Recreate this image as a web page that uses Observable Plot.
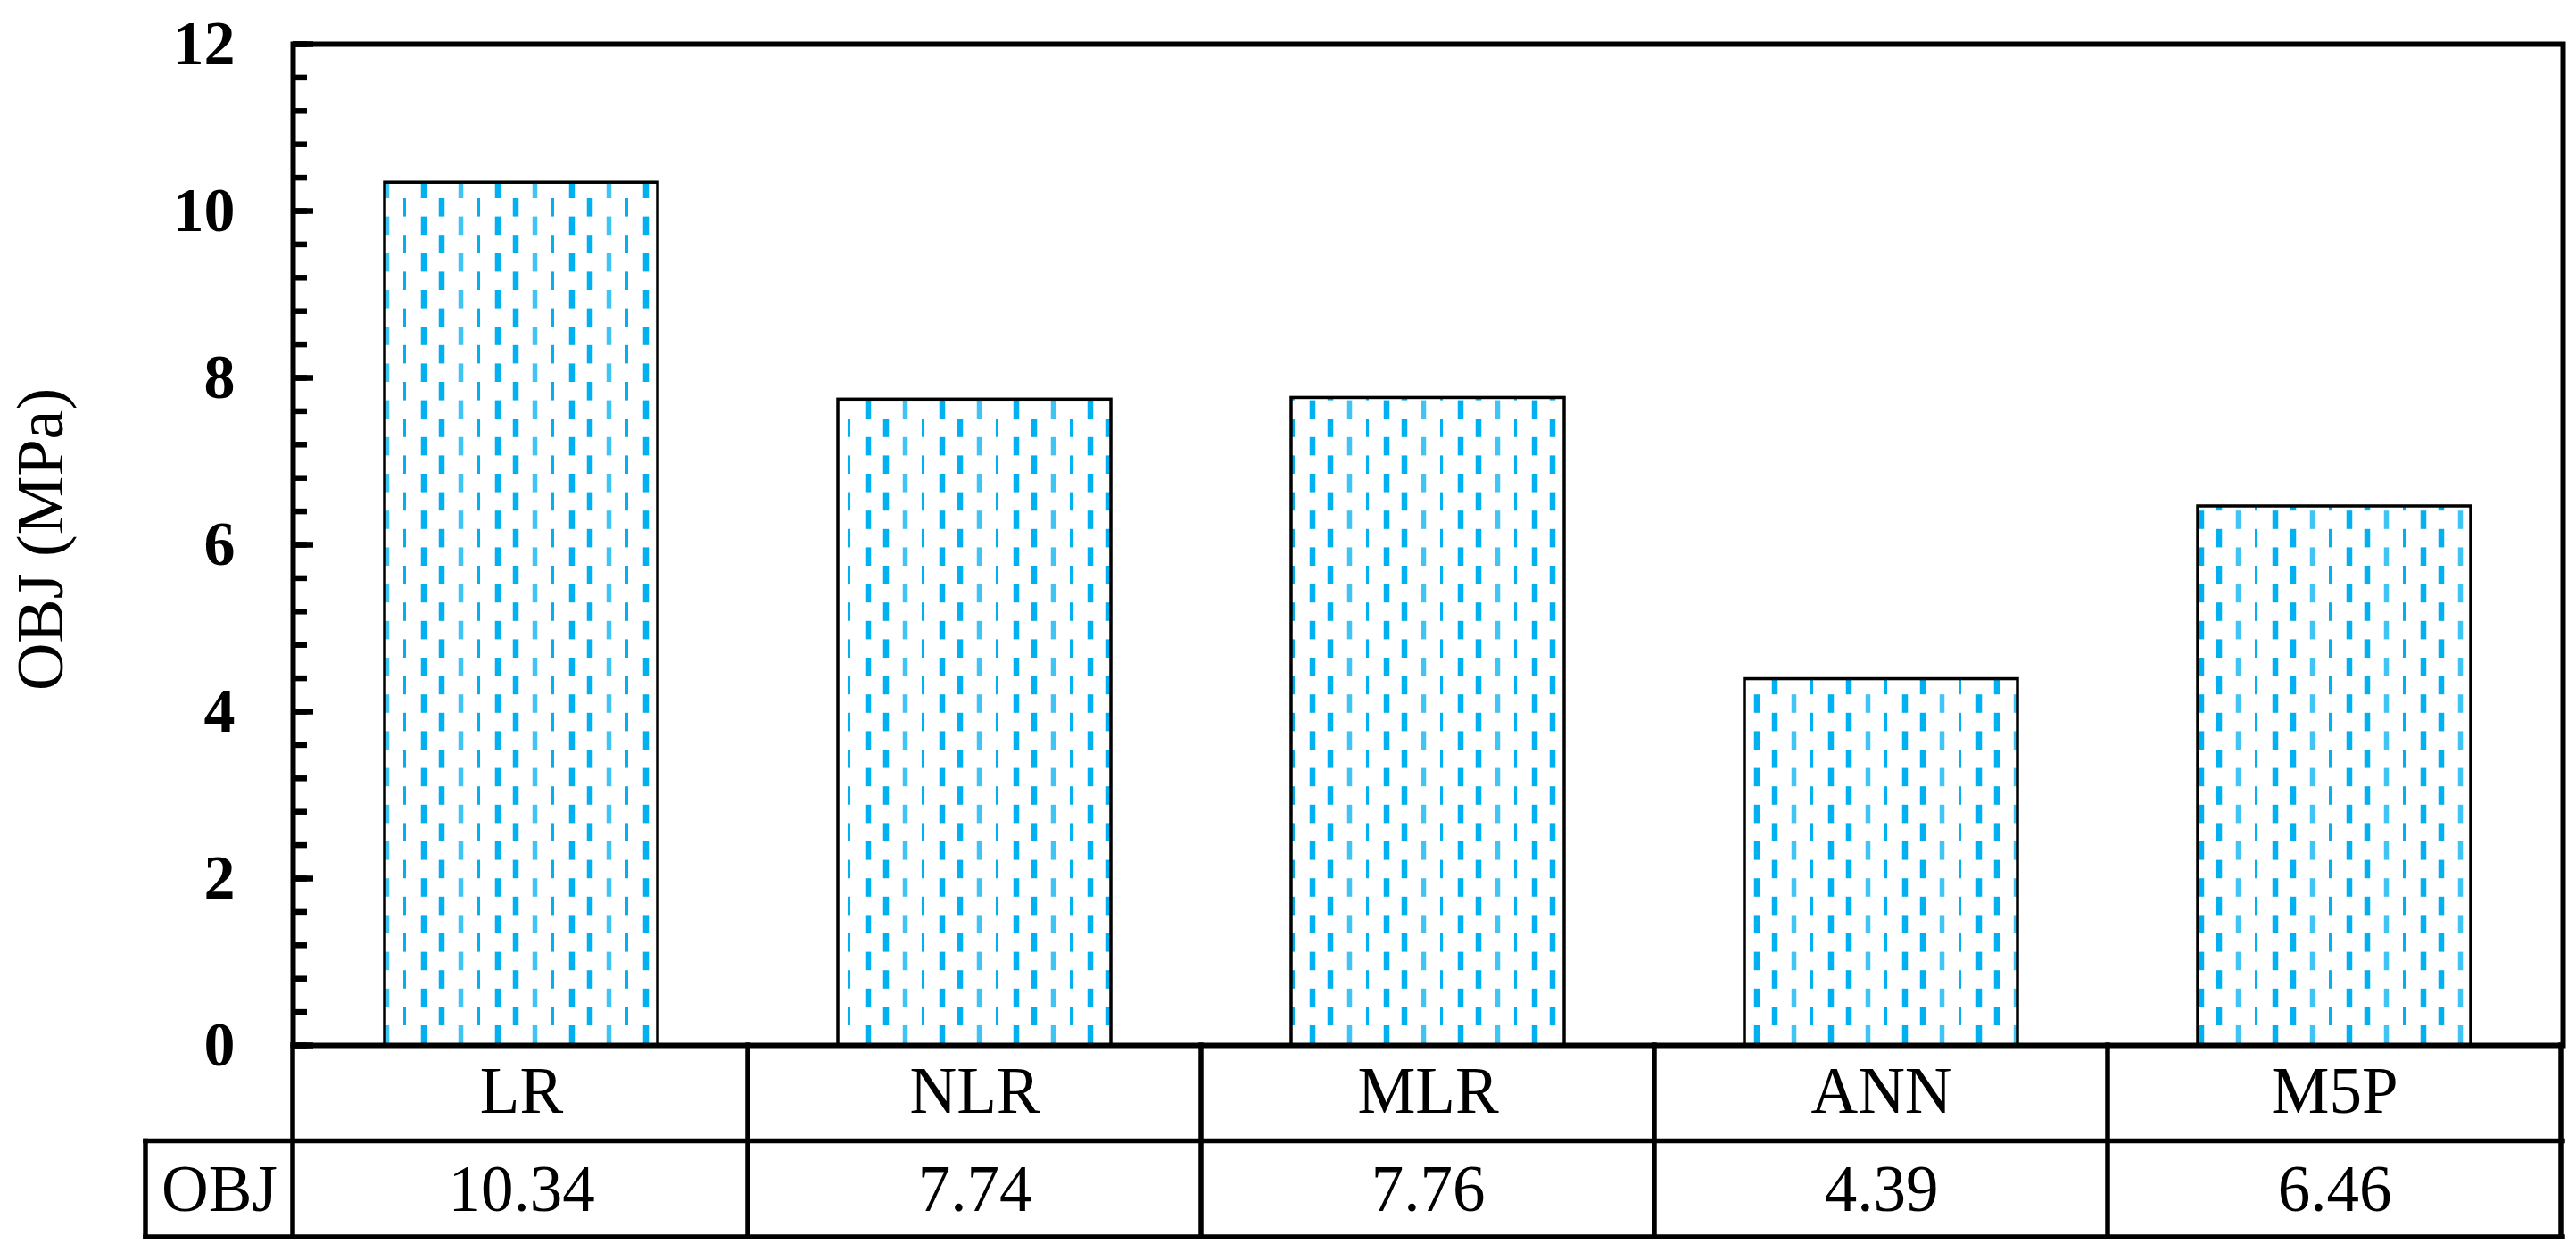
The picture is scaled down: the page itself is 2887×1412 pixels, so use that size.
<!DOCTYPE html>
<html><head><meta charset="utf-8">
<script src="https://cdn.jsdelivr.net/npm/d3@7"></script>
<script src="https://cdn.jsdelivr.net/npm/@observablehq/plot@0.6"></script>
<style>html,body{margin:0;padding:0;background:#fff}</style>
</head><body><div id="chart"></div>
<script>
// ---- data ----
const categories = ["LR", "NLR", "MLR", "ANN", "M5P"];
const objValues = [10.34, 7.74, 7.76, 4.39, 6.46];
const majorTicks = [0, 2, 4, 6, 8, 10, 12];
const minorTicks = d3.range(0, 31).map(i => +(i * 0.4).toFixed(1));
const rowLabel = "OBJ";
const yLabel = "OBJ (MPa)";

const data = categories.map((c, i) => ({model: c, obj: objValues[i]}));
const FONT = "'Liberation Serif', 'Times New Roman', Times, serif";
const ROW_H = 107.5;
const LABEL_CELL_W = 165;

function tableGrid(index, scales, values, dims) {
  const g = d3.create("svg:g")
    .attr("stroke", "black").attr("stroke-width", 5.5)
    .attr("stroke-linecap", "square").attr("fill", "none");
  const x = scales.x;
  const left = dims.marginLeft, right = dims.width - dims.marginRight;
  const bw = (x && typeof x.bandwidth === "function") ? x.bandwidth() : (right - left) / categories.length;
  const y0 = scales.y(0), y1 = y0 + ROW_H, y2 = y0 + 2 * ROW_H;
  const labelLeft = left - LABEL_CELL_W;
  const line = (xa, ya, xb, yb) => g.append("line").attr("x1", xa).attr("y1", ya).attr("x2", xb).attr("y2", yb);
  line(left, y0, left, y2);
  categories.forEach(c => { const xr = x(c) + bw; line(xr, y0, xr, y2); });
  line(labelLeft, y1, right, y1);
  line(labelLeft, y2, right, y2);
  line(labelLeft, y1, labelLeft, y2);
  return g.node();
}

const plot = Plot.plot({
  width: 2887,
  height: 1412,
  marginLeft: 328,
  marginRight: 15,
  marginTop: 49,
  marginBottom: 241,
  style: {fontFamily: FONT, background: "white", color: "black", overflow: "visible"},
  x: {domain: categories, padding: 0, axis: null},
  y: {domain: [0, 12], axis: null},
  marks: [
    Plot.barY(data, {x: "model", y: "obj", fill: "url(#dashfill)", stroke: "black", strokeWidth: 3.5, insetLeft: 101, insetRight: 101}),
    Plot.axisY(minorTicks, {tickSize: 16, dx: 16, strokeWidth: 6.5, tickFormat: () => "", label: null}),
    Plot.axisY(majorTicks, {tickSize: 23, dx: 23, strokeWidth: 6.5, tickFormat: () => "", label: null}),
    Plot.axisY(majorTicks, {tickSize: 0, tickPadding: 65, fontSize: 70, fontWeight: "bold", tickFormat: d => String(d), label: null}),
    Plot.frame({stroke: "black", strokeWidth: 6}),
    Plot.text([yLabel], {frameAnchor: "left", dx: -282, dy: -6, rotate: -90, textAnchor: "middle", lineAnchor: "middle", fontSize: 74}),
    tableGrid,
    Plot.text(data, {x: "model", y: () => 0, dy: 52, text: "model", fontSize: 73}),
    Plot.text(data, {x: "model", y: () => 0, dy: 162, text: d => d3.format(".2f")(d.obj), fontSize: 73}),
    Plot.text([rowLabel], {frameAnchor: "bottom-left", dx: -LABEL_CELL_W / 2, dy: 162, textAnchor: "middle", lineAnchor: "middle", fontSize: 73})
  ]
});

// dashed fill pattern (global tiling, like the original's pattern fill)
const svg = d3.select(plot);
const defs = svg.insert("defs", ":first-child");
const p = defs.append("pattern").attr("id", "dashfill")
  .attr("patternUnits", "userSpaceOnUse")
  .attr("width", 83).attr("height", 41.2)
  .attr("patternTransform", "translate(3,16)");
const c = "#00B0F0";
p.append("rect").attr("width", 83).attr("height", 41.2).attr("fill", "white");
// row B (top half): thin / thick
p.append("rect").attr("x", 34).attr("y", 0).attr("width", 3).attr("height", 20.6).attr("fill", c);
p.append("rect").attr("x", 73.75).attr("y", 0).attr("width", 6.5).attr("height", 20.6).attr("fill", c);
// row A (bottom half): light / thick
p.append("rect").attr("x", 12.75).attr("y", 20.6).attr("width", 5.5).attr("height", 20.6).attr("fill", c).attr("fill-opacity", 0.75);
p.append("rect").attr("x", 53.75).attr("y", 20.6).attr("width", 6.5).attr("height", 20.6).attr("fill", c);

document.getElementById("chart").appendChild(plot);
</script>
</body></html>
